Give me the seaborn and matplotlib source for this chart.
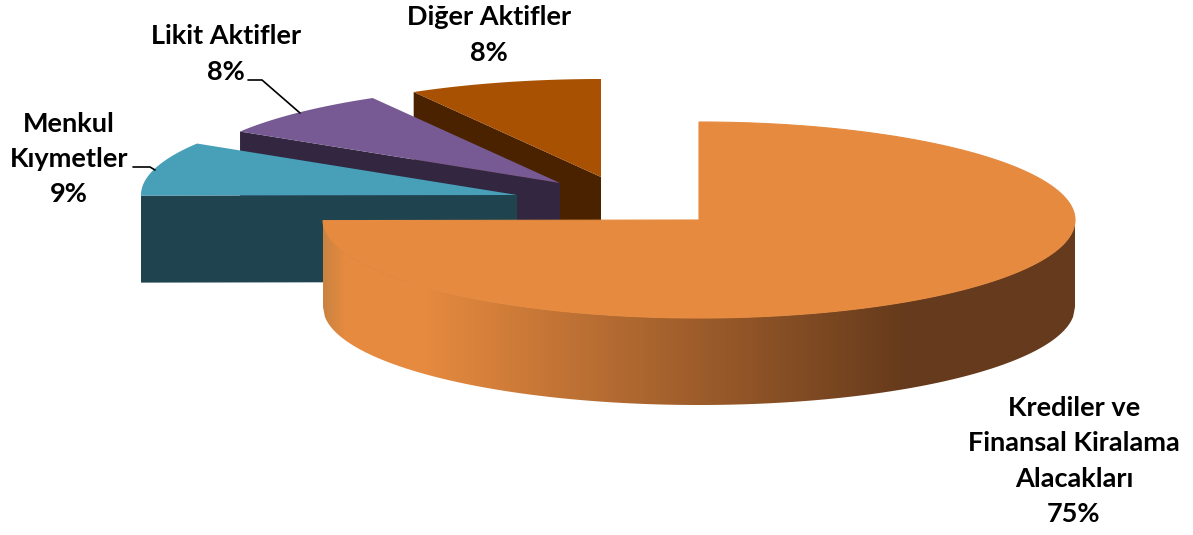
import numpy as np
import matplotlib
matplotlib.use("Agg")
import matplotlib.pyplot as plt
from matplotlib.patches import Polygon
import seaborn as sns

labels = ["Krediler ve\nFinansal Kiralama\nAlacakları", "Menkul\nKıymetler", "Likit Aktifler", "Diğer Aktifler"]
shares = [74.9, 8.9, 7.9, 8.3]

top_colors = ["#E58A3F", "#479FB8", "#775A93", "#A85103"]
side_colors = ["#663A1C", "#1F4450", "#332640", "#4A2200"]

# pie geometry in pixels
rx, ry, depth = 376, 98, 87
centers = [(699, 220), (517, 195), (560, 183), (601, 177)]
label_pos = [(1074, 461), (69, 159), (226, 54), (489, 35)]

sns.set_theme(style="white")
plt.rcParams["font.family"] = ["Lato", "DejaVu Sans"]

fig = plt.figure(figsize=(11.93, 5.35), dpi=100)
ax = fig.add_axes([0, 0, 1, 1])
ax.set_xlim(0, 1193)
ax.set_ylim(535, 0)
ax.axis("off")


def wedge(center, a0, a1):
    # angles clockwise from 12 o'clock
    t = np.radians(np.linspace(a0, a1, 200))
    xs = center[0] + rx * np.sin(t)
    ys = center[1] - ry * np.cos(t)
    return np.vstack([[center], np.column_stack([xs, ys])])


angles = np.cumsum([0] + shares) * 3.6

# back slices first: cut face, then top
for i in [3, 2, 1]:
    c = centers[i]
    z = (4 - i) * 2
    pts = wedge(c, angles[i], angles[i + 1])
    start = pts[1]
    face = [start, c, (c[0], c[1] + depth), (start[0], start[1] + depth)]
    ax.add_patch(Polygon(face, color=side_colors[i], lw=0, zorder=z))
    if i == 3:
        # right wall of the last slice, seen below its tip
        ax.add_patch(Polygon([c, (c[0], c[1] + depth), (c[0] - 41, c[1] + depth), (c[0] - 41, c[1])],
                             color=side_colors[i], lw=0, zorder=z))
    ax.add_patch(Polygon(pts, color=top_colors[i], lw=0, zorder=z + 1))

# big slice: rim with left to right shading
c = centers[0]
shade = (sns.blend_palette(["#C98343", top_colors[0]], 22)
         + sns.blend_palette([top_colors[0], top_colors[0]], 80)
         + sns.blend_palette([top_colors[0], side_colors[0]], 482)
         + sns.blend_palette([side_colors[0], side_colors[0]], 168))
im = ax.imshow(np.array(shade)[np.newaxis, :, :], extent=(c[0] - rx, c[0] + rx, c[1] + ry + depth, c[1]),
               aspect="auto", zorder=10)
t = np.linspace(-1, 1, 400)
arc_x = c[0] + rx * t
arc_y = c[1] + ry * np.sqrt(1 - t ** 2)
rim = np.vstack([np.column_stack([arc_x, arc_y]), np.column_stack([arc_x[::-1], arc_y[::-1] + depth])])
clip = Polygon(rim, transform=ax.transData, fill=False, lw=0)
ax.add_patch(clip)
im.set_clip_path(clip)
ax.set_xlim(0, 1193)
ax.set_ylim(535, 0)
ax.add_patch(Polygon(wedge(c, angles[0], angles[1]), color=top_colors[0], lw=0.8, zorder=11))

# leader lines
ax.plot([248, 262, 300], [80, 80, 113], color="black", lw=1.2, zorder=12)
ax.plot([133, 150, 155], [167, 167, 170], color="black", lw=1.2, zorder=12)

for name, val, pos in zip(labels, shares, label_pos):
    ax.text(pos[0], pos[1], f"{name}\n{val:.0f}%", ha="center", va="center", fontsize=19.5,
            fontweight="bold", color="black", linespacing=1.56, zorder=13)

fig.savefig("out.png", dpi=100)
